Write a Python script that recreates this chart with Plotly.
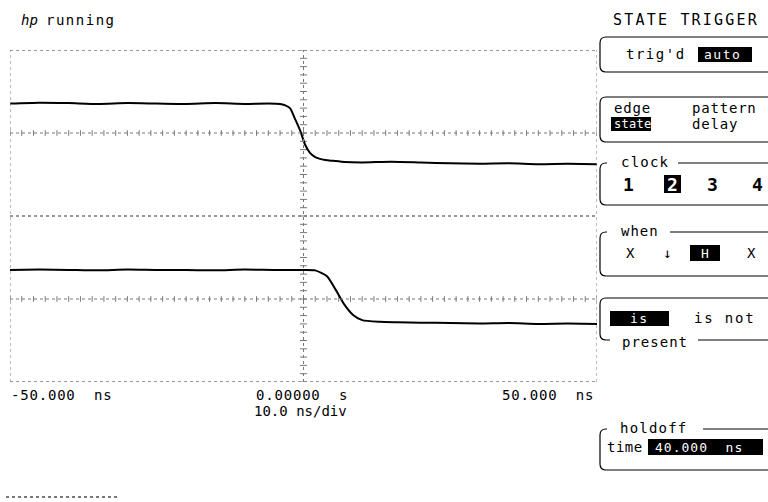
import plotly.graph_objects as go

# waveform samples (time in ns, level in divisions from bottom)
t_ch1 = [-50, -45, -40, -35, -30, -25, -20, -15, -10, -6, -4, -3.2, -2.3, -1.5, -0.6,
         0.3, 1.1, 2.0, 3.7, 5, 7, 10, 15, 20, 25, 30, 35, 40, 45, 50]
v_ch1 = [6.71, 6.73, 6.72, 6.70, 6.72, 6.71, 6.70, 6.72, 6.70, 6.71, 6.70, 6.67, 6.60, 6.36, 6.07,
         5.71, 5.52, 5.42, 5.35, 5.33, 5.30, 5.29, 5.31, 5.29, 5.27, 5.26, 5.27, 5.25, 5.26, 5.25]

t_ch2 = [-50, -45, -40, -35, -30, -25, -20, -15, -10, -5, 0, 2, 4, 5.5, 7, 8.5, 10, 13,
         16, 20, 25, 30, 35, 40, 45, 50]
v_ch2 = [2.70, 2.71, 2.70, 2.69, 2.71, 2.70, 2.70, 2.69, 2.71, 2.70, 2.70, 2.69, 2.55, 2.22,
         1.86, 1.61, 1.49, 1.45, 1.44, 1.43, 1.42, 1.41, 1.42, 1.40, 1.41, 1.40]

x_tick_labels = ["-50.000  ns", "0.00000  s", "50.000  ns"]
timebase_label = "10.0 ns/div"
ch_centers = [2, 6]

FONT = "DejaVu Sans Mono"
GRID = "rgb(120,120,120)"

# plot area in screen pixels
L, R, T, B = 10, 597, 50, 382


def px(x):
    return (x - L) / (R - L)


def py(y):
    return (B - y) / (B - T)


fig = go.Figure()

# dotted graticule
for yy in [0, 4, 8]:
    fig.add_shape(type="line", x0=-50, x1=50, y0=yy, y1=yy, xref="x", yref="y",
                  line=dict(color=GRID, width=1.5, dash="dot"))
for yy in ch_centers:
    fig.add_shape(type="line", x0=-50, x1=50, y0=yy, y1=yy, xref="x", yref="y",
                  line=dict(color=GRID, width=1, dash="dot"))
    ticks = [i for i in range(-50, 51, 2)]
    fig.add_trace(go.Scatter(x=ticks, y=[yy] * len(ticks), mode="markers", hoverinfo="skip",
                             marker=dict(symbol="line-ns", size=4, line=dict(color=GRID, width=1))))
for xx in [-50, 50]:
    fig.add_shape(type="line", x0=xx, x1=xx, y0=0, y1=8, xref="x", yref="y",
                  line=dict(color=GRID, width=1, dash="dot"))
fig.add_shape(type="line", x0=0, x1=0, y0=0, y1=8, xref="x", yref="y",
              line=dict(color=GRID, width=1, dash="dot"))
vt = [i / 5 for i in range(0, 41)]
fig.add_trace(go.Scatter(x=[0] * len(vt), y=vt, mode="markers", hoverinfo="skip",
                         marker=dict(symbol="line-ew", size=5, line=dict(color=GRID, width=1))))

# waveforms
for t, v in [(t_ch1, v_ch1), (t_ch2, v_ch2)]:
    fig.add_trace(go.Scatter(x=t, y=v, mode="lines",
                             line=dict(color="black", width=2, shape="spline", smoothing=0.6)))

ann = []


def text(x, y, s, size=14, color="black", anchor="left", sp=1):
    s = '<span style="letter-spacing:%spx">%s</span>' % (sp, s)
    ann.append(dict(x=px(x), y=py(y), xref="paper", yref="paper", text=s, showarrow=False,
                    xanchor=anchor, yanchor="middle", font=dict(family=FONT, size=size, color=color)))


def hilite(x0, x1, y0, y1):
    fig.add_shape(type="rect", xref="paper", yref="paper", x0=px(x0), x1=px(x1),
                  y0=py(y1), y1=py(y0), fillcolor="black", line=dict(width=0))


def box(x0, y0, y1, gap_top=None, gap_bot=None, r=6):
    # open-right panel bracket with rounded left corners
    xr = 770
    segs = []
    if gap_top:
        segs.append("M %f,%f L %f,%f" % (px(gap_top[1]), py(y0), px(xr), py(y0)))
        segs.append("M %f,%f L %f,%f Q %f,%f %f,%f" % (px(gap_top[0]), py(y0), px(x0 + r), py(y0),
                                                     px(x0), py(y0), px(x0), py(y0 + r)))
    else:
        segs.append("M %f,%f L %f,%f Q %f,%f %f,%f" % (px(xr), py(y0), px(x0 + r), py(y0),
                                                     px(x0), py(y0), px(x0), py(y0 + r)))
    segs.append("L %f,%f Q %f,%f %f,%f" % (px(x0), py(y1 - r), px(x0), py(y1), px(x0 + r), py(y1)))
    if gap_bot:
        segs.append("L %f,%f" % (px(gap_bot[0]), py(y1)))
        segs.append("M %f,%f L %f,%f" % (px(gap_bot[1]), py(y1), px(xr), py(y1)))
    else:
        segs.append("L %f,%f" % (px(xr), py(y1)))
    fig.add_shape(type="path", xref="paper", yref="paper", path=" ".join(segs),
                  line=dict(color="black", width=1.2))


# header
text(19, 20, "<i>hp</i>", 14, sp=0)
text(44, 20, "running", 14, sp=1.5)
text(611, 20, "STATE TRIGGER", 15, sp=2.2)

# trig'd / auto
box(600, 37, 72)
text(624, 54, "trig'd", 14, sp=1.5)
hilite(698, 752, 47, 62)
text(702, 54, "auto", 13, "white", sp=1.5)

# mode
box(600, 97, 142)
text(612, 108, "edge", 14, sp=0.8)
text(690, 108, "pattern", 14, sp=0.8)
hilite(611, 651, 117, 131)
text(612, 124, "state", 12, "white", sp=0.3)
text(690, 124, "delay", 14, sp=0.8)

# clock
box(600, 163, 205, gap_top=(607, 678))
text(619, 162, "clock", 14, sp=1.2)
text(621, 184, "<b>1</b>", 18, sp=0)
hilite(664, 681, 175, 193)
text(665, 184, "<b>2</b>", 18, "white", sp=0)
text(705, 184, "<b>3</b>", 18, sp=0)
text(750, 184, "<b>4</b>", 18, sp=0)

# when
box(600, 232, 276, gap_top=(607, 670))
text(619, 231, "when", 14, sp=1)
text(624, 253, "X", 14)
text(661, 253, "↓", 14)
hilite(690, 720, 245, 261)
text(699, 253, "H", 13, "white")
text(745, 253, "X", 14)

# is / is not present
box(600, 298, 340, gap_bot=(610, 698))
hilite(610, 669, 311, 326)
text(628, 318, "is", 13, "white", sp=1.5)
text(692, 318, "is not", 14, sp=1.8)
text(620, 342, "present", 14, sp=1)

# holdoff
box(600, 429, 470, gap_top=(607, 703))
text(618, 428, "holdoff", 14, sp=1.2)
text(605, 447, "time", 14, sp=0.5)
hilite(648, 763, 439, 455)
text(653, 447, "40.000  ns", 13, "white", sp=1)

# x axis labels
text(9, 395, x_tick_labels[0], 14, sp=0.8)
text(302, 395, x_tick_labels[1], 14, anchor="center", sp=0.8)
text(596, 395, x_tick_labels[2], 14, anchor="right", sp=0.8)
text(300, 411, timebase_label, 14, anchor="center", sp=0)

fig.add_shape(type="line", xref="paper", yref="paper", x0=px(6), x1=px(120), y0=py(497), y1=py(497),
              line=dict(color=GRID, width=2, dash="dot"))

fig.update_layout(
    width=768, height=502,
    margin=dict(l=L, r=768 - R, t=T, b=502 - B),
    paper_bgcolor="white", plot_bgcolor="white",
    showlegend=False,
    xaxis=dict(range=[-50, 50], visible=False, fixedrange=True),
    yaxis=dict(range=[0, 8], visible=False, fixedrange=True),
    annotations=ann,
)

fig.write_html("out.html", config={"displayModeBar": False},
               post_script="document.body.style.margin='0';document.body.style.overflow='hidden';")
